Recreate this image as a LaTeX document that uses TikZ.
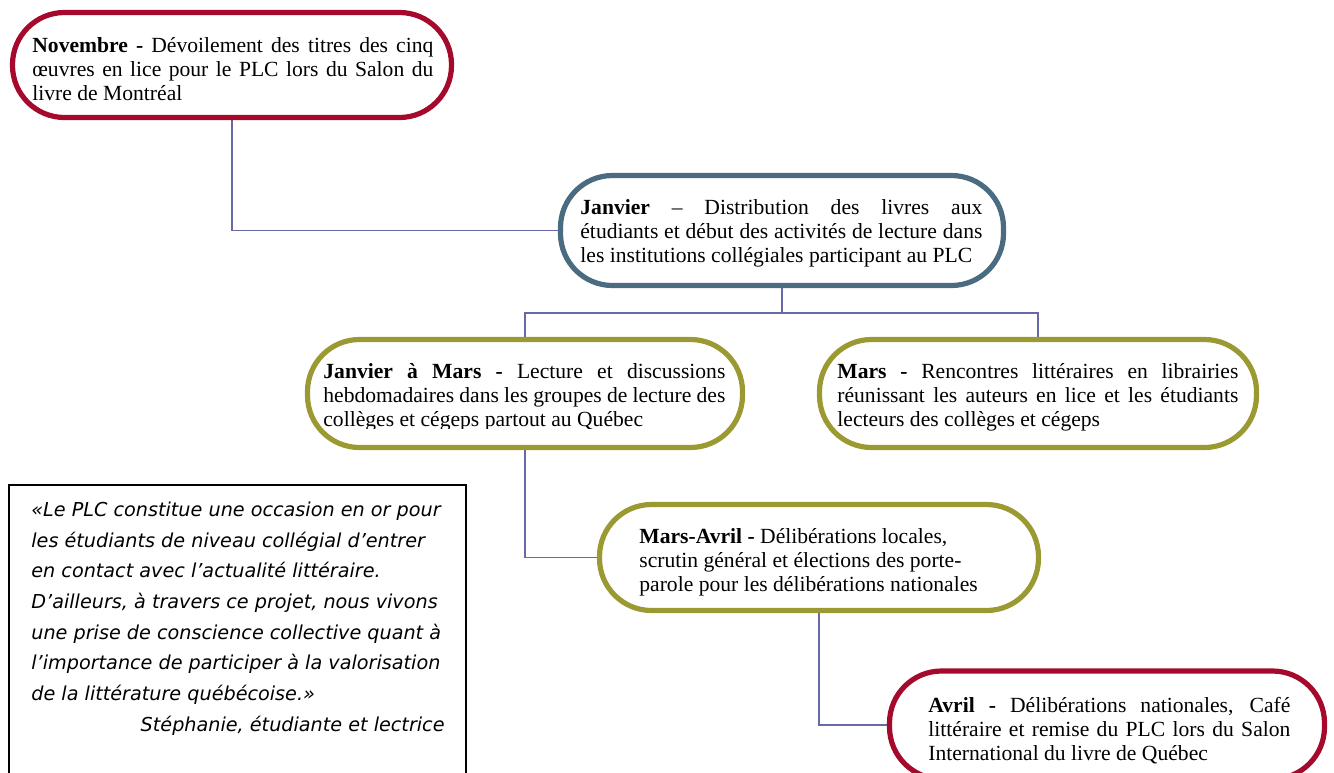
\documentclass[tikz,border=0pt]{standalone}
\usepackage{fontspec}
\setmainfont{Liberation Serif}
\newfontfamily\quotefont{DejaVu Sans}
\definecolor{nred}{RGB}{165,10,45}
\definecolor{slate}{RGB}{75,107,128}
\definecolor{olive}{RGB}{155,153,50}
\definecolor{connc}{RGB}{105,105,170}
\newcommand\jl[2]{\makebox[#1][s]{#2}}
\newcommand\topfix{\rule{0pt}{10pt}}
\pgfdeclarelayer{background}
\pgfsetlayers{background,main}
\begin{document}
\begin{tikzpicture}[x=0.5pt,y=-0.5pt,
  box/.style={draw, rounded corners=26pt, line width=2.6pt, fill=white, inner sep=0pt},
  redbox/.style={box, draw=nred},
  bluebox/.style={box, draw=slate},
  olivebox/.style={box, draw=olive},
  txt/.style={anchor=north west, inner sep=0pt, align=left, font=\fontsize{10.8}{12}\selectfont},
  conn/.style={draw=connc, line width=0.8pt},
  qtxt/.style={inner sep=0pt, font=\quotefont\itshape\fontsize{9.6}{15.35}\selectfont}]
\useasboundingbox (0,0) rectangle (1334,772);
\clip (0,0) rectangle (1334,772);

% boxes
\node[redbox, minimum width=219.5pt, minimum height=52.5pt] (nov) at (232,65) {};
\node[bluebox, minimum width=221.5pt, minimum height=55pt] (jan) at (782,230.5) {};
\node[olivebox, minimum width=217.5pt, minimum height=54pt] (jam) at (525,393.5) {};
\node[olivebox, minimum width=218.5pt, minimum height=54pt] (mars) at (1038,393.5) {};
\node[olivebox, minimum width=219.5pt, minimum height=53pt] (ma) at (819,557.5) {};
\node[redbox, minimum width=217.5pt, minimum height=54pt] (av) at (1107,725) {};
\node[draw=black, line width=0.9pt, fill=white, minimum width=228.5pt, minimum height=157.5pt, inner sep=0pt] (quote) at (237.5,642.5) {};

% texts
\node[txt] (novt) at (32,32) {\topfix\jl{200.5pt}{\textbf{Novembre -} Dévoilement des titres des cinq}\\
\jl{200.5pt}{œuvres en lice pour le PLC lors du Salon du}\\
livre de Montréal};
\node[txt] (jant) at (580,194) {\topfix\jl{201pt}{\textbf{Janvier} – Distribution des livres aux}\\
\jl{201pt}{étudiants et début des activités de lecture dans}\\
les institutions collégiales participant au PLC};
\begin{scope}
\clip (300,340) rectangle (760,428);
\node[txt] (jamt) at (323,358) {\topfix\jl{201pt}{\textbf{Janvier à Mars -} Lecture et discussions}\\
\jl{201pt}{hebdomadaires dans les groupes de lecture des}\\
collèges et cégeps partout au Québec};
\end{scope}
\node[txt] (marst) at (837,358) {\topfix\jl{200.5pt}{\textbf{Mars -} Rencontres littéraires en librairies}\\
\jl{200.5pt}{réunissant les auteurs en lice et les étudiants}\\
lecteurs des collèges et cégeps};
\node[txt] (mat) at (639,523) {\topfix\textbf{Mars-Avril -} Délibérations locales,\\
scrutin général et élections des porte-\\
parole pour les délibérations nationales};
\node[txt] (avt) at (928,692) {\topfix\jl{181pt}{\textbf{Avril -} Délibérations nationales, Café}\\
\jl{181pt}{littéraire et remise du PLC lors du Salon}\\
International du livre de Québec};

\node[qtxt, anchor=north west, align=left] (qt) at (31,496) {\topfix«Le PLC constitue une occasion en or pour\\
les étudiants de niveau collégial d’entrer\\
en contact avec l’actualité littéraire.\\
D’ailleurs, à travers ce projet, nous vivons\\
une prise de conscience collective quant à\\
l’importance de participer à la valorisation\\
de la littérature québécoise.»};
\node[qtxt, anchor=base east] (sig) at (445,731) {Stéphanie, étudiante et lectrice};

% connectors
\begin{pgfonlayer}{background}
\draw[conn] (nov.south) |- (jan.west);
\draw[conn] (jan.south) -- ++(0,25) coordinate (bar);
\draw[conn] (jam.north) |- (bar) -| (mars.north);
\draw[conn] (jam.south) |- (ma.west);
\draw[conn] (ma.south) |- (av.west);
\end{pgfonlayer}
\end{tikzpicture}
\end{document}
